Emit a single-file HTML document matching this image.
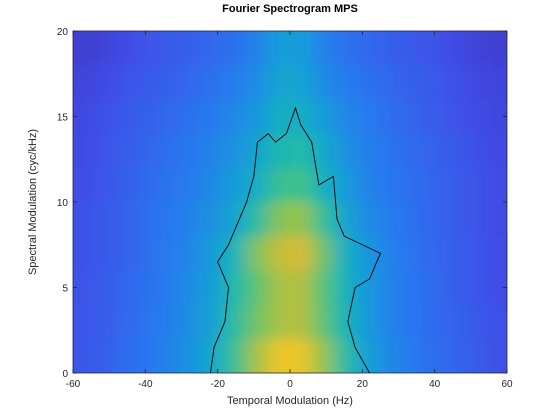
<!DOCTYPE html>
<html><head><meta charset="utf-8"><style>
body{margin:0;background:#fff;}
svg{display:block;font-family:"Liberation Sans",sans-serif;}
</style></head><body>
<svg id="chart" width="560" height="420">
<defs>
<clipPath id="clip"><rect x="73" y="31" width="434" height="342"/></clipPath>
<filter id="blur" filterUnits="userSpaceOnUse" x="0" y="0" width="560" height="420"><feGaussianBlur stdDeviation="9 6"/></filter>
</defs>
<rect x="0" y="0" width="560" height="420" fill="#fff"/>
<g clip-path="url(#clip)"><g id="heat" filter="url(#blur)"></g></g>
<g id="contour" clip-path="url(#clip)"></g>
<rect x="73" y="31" width="434" height="342" fill="none" stroke="#262626" stroke-width="0.8"/>
<g id="axes"></g>
<text x="290" y="12" text-anchor="middle" font-size="11" font-weight="bold" fill="#000">Fourier Spectrogram MPS</text>
<text x="290" y="404" text-anchor="middle" font-size="11" fill="#262626">Temporal Modulation (Hz)</text>
<text x="36" y="202" text-anchor="middle" font-size="11" fill="#262626" transform="rotate(-90 36 202)">Spectral Modulation (cyc/kHz)</text>
</svg>
<script>
const xCenters=[-57,-51,-45,-39,-33,-27,-21,-15,-9,-3,3,9,15,21,27,33,39,45,51,57];
const yRowStarts=[18,16,14,12,10,8,6,4,2,0];
const r18=[.1,.12,.15,.18,.2,.22,.25,.28,.34,.44,.44,.34,.28,.25,.22,.2,.18,.15,.12,.1];
const r16=[.12,.15,.18,.2,.22,.25,.28,.32,.38,.47,.47,.38,.32,.28,.25,.22,.2,.17,.14,.12];
const r14=[.14,.17,.2,.22,.25,.28,.31,.36,.42,.52,.52,.44,.36,.31,.27,.24,.21,.18,.15,.13];
const r12=[.15,.18,.21,.24,.27,.3,.34,.4,.48,.57,.58,.5,.4,.33,.29,.26,.23,.2,.17,.14];
const r10=[.16,.19,.22,.26,.29,.32,.37,.44,.52,.62,.64,.54,.44,.35,.3,.27,.24,.21,.18,.15];
const r8=[.17,.2,.23,.27,.3,.34,.4,.48,.6,.72,.74,.62,.48,.38,.32,.28,.24,.21,.18,.15];
const r6=[.17,.2,.23,.27,.31,.36,.44,.56,.72,.8,.83,.7,.53,.42,.34,.29,.25,.22,.19,.16];
const r4=[.18,.21,.24,.28,.32,.38,.46,.58,.68,.76,.78,.67,.55,.43,.35,.3,.26,.22,.19,.16];
const r2=[.19,.21,.25,.29,.33,.39,.47,.6,.7,.76,.78,.68,.56,.43,.35,.3,.26,.23,.2,.17];
const r0=[.19,.22,.26,.3,.34,.41,.5,.63,.76,.88,.88,.74,.6,.46,.37,.31,.27,.24,.21,.17];
const rows=[r18,r16,r14,r12,r10,r8,r6,r4,r2,r0];
const contourX=[-22,-21,-18,-17,-20,-17,-14,-12,-10,-9,-6,-4,-1,1.5,3,6,8,12,13,15,20,25,22,18,16,18,22];
const contourY=[0,1.5,3,5,6.5,7.5,9,10,11.5,13.5,14,13.5,14,15.5,14.5,13.5,11,11.5,9,8,7.5,7,5.5,5,3,1.5,0];
const xTicks=[-60,-40,-20,0,20,40,60];
const yTicks=[0,5,10,15,20];
const NS='http://www.w3.org/2000/svg';
const X0=73,X1=507,Y0=373,Y1=31;
const sx=v=>X0+(v+60)/120*(X1-X0);
const sy=v=>Y0-v/20*(Y0-Y1);
const stops=[[0,[62,38,168]],[0.15,[65,75,230]],[0.3,[40,120,240]],[0.45,[20,160,215]],[0.55,[20,180,185]],[0.65,[70,195,130]],[0.75,[160,195,70]],[0.85,[230,185,50]],[1,[250,250,20]]];
function cmap(v){for(let i=1;i<stops.length;i++){if(v<=stops[i][0]){const a=stops[i-1],b=stops[i];const t=(v-a[0])/(b[0]-a[0]);const c=a[1].map((q,k)=>Math.round(q+(b[1][k]-q)*t));return `rgb(${c})`;}}return 'rgb(250,250,20)';}
const heat=document.getElementById('heat');
const nR=rows.length,nC=xCenters.length;
rows.forEach((row,ri)=>{row.forEach((v,ci)=>{
 const r=document.createElementNS(NS,'rect');
 let xa=sx(xCenters[ci]-3),xb=sx(xCenters[ci]+3),ya=sy(yRowStarts[ri]+2),yb=sy(yRowStarts[ri]);
 if(ci===0)xa-=40; if(ci===nC-1)xb+=40; if(ri===0)ya-=40; if(ri===nR-1)yb+=40;
 r.setAttribute('x',xa);r.setAttribute('y',ya);r.setAttribute('width',xb-xa+0.5);r.setAttribute('height',yb-ya+0.5);
 r.setAttribute('fill',cmap(v));
 
 
 heat.appendChild(r);});});
const pl=document.createElementNS(NS,'polyline');
pl.setAttribute('points',contourX.map((x,i)=>sx(x)+','+sy(contourY[i])).join(' '));
pl.setAttribute('fill','none');pl.setAttribute('stroke','#000');pl.setAttribute('stroke-width','0.9');


document.getElementById('contour').appendChild(pl);
const axes=document.getElementById('axes');
function add(tag,attrs,txt){const e=document.createElementNS(NS,tag);for(const k in attrs)e.setAttribute(k,attrs[k]);if(txt!==undefined)e.textContent=txt;axes.appendChild(e);return e;}
xTicks.forEach(t=>{const x=sx(t);
 const l1=add('line',{x1:x,x2:x,y1:Y0,y2:Y0-4,stroke:'#262626','stroke-width':0.8});
 
 
 const l2=add('line',{x1:x,x2:x,y1:Y1,y2:Y1+4,stroke:'#262626','stroke-width':0.8});
 
 
 const tx=add('text',{x:x,y:Y0+14,'text-anchor':'middle','font-size':10,fill:'#262626'},String(t));
 
 });
yTicks.forEach(t=>{const y=sy(t);
 const l1=add('line',{x1:X0,x2:X0+4,y1:y,y2:y,stroke:'#262626','stroke-width':0.8});
 
 
 const l2=add('line',{x1:X1,x2:X1-4,y1:y,y2:y,stroke:'#262626','stroke-width':0.8});
 
 
 const tx=add('text',{x:X0-5,y:y+4,'text-anchor':'end','font-size':10,fill:'#262626'},String(t));
 
 });
</script>
</body></html>
